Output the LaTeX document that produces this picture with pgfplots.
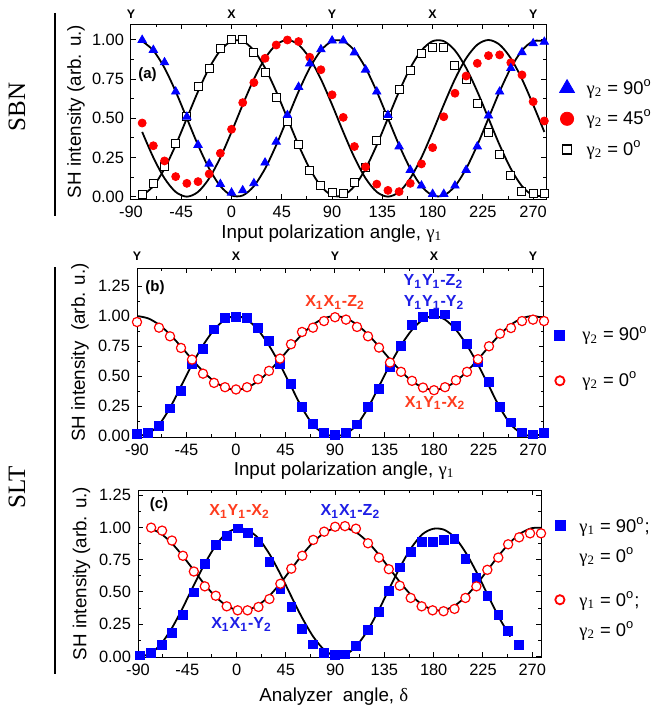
\documentclass[border=0pt]{standalone}
\usepackage{fontspec}
\setmainfont{Liberation Sans}
\newfontfamily\serif{Liberation Serif}
\usepackage{pgfplots}
\pgfplotsset{compat=1.18}

\definecolor{mblue}{RGB}{0,0,255}
\definecolor{mred}{RGB}{255,0,0}
\definecolor{tred}{RGB}{255,60,30}
\definecolor{tblue}{RGB}{30,30,230}

\newcommand{\gam}[1]{{\serif γ}\textsubscript{\serif #1}}
\newcommand{\tens}[3]{\textbf{#1\textsubscript{1}#2\textsubscript{1}-#3\textsubscript{2}}}
\newcommand{\dg}{\textsuperscript{o}}
\newcommand{\two}[2]{\vtop{\hbox{#1}\vskip 2pt\hbox{#2}}}

\tikzset{
  topl/.style={font=\bfseries\fontsize{6.2}{7}\selectfont, anchor=south, inner sep=0pt},
  plab/.style={font=\bfseries\fontsize{7.5}{9}\selectfont},
  ann/.style={font=\bfseries\fontsize{8}{9}\selectfont},
}
\pgfplotsset{
  panel/.style={
    scale only axis,
    anchor=south west,
    axis line style={line width=0.5pt},
    tick align=inside,
    xtick={-90,-45,0,45,90,135,180,225,270},
    minor x tick num=1,
    minor y tick num=1,
    major tick length=2.6pt,
    minor tick length=1.5pt,
    every tick/.style={black, line width=0.5pt},
    /pgf/number format/assume math mode=true,
    ticklabel style={font=\fontsize{8.2}{9}\selectfont},
    yticklabel style={/pgf/number format/.cd, fixed, fixed zerofill, precision=2},
    xlabel style={font=\fontsize{9.4}{11}\selectfont, anchor=north, inner sep=0pt},
    ylabel style={font=\fontsize{9.4}{11}\selectfont, anchor=center, inner sep=0pt},
    clip mode=individual,
    legend cell align=left,
    legend style={draw=none, fill=none, inner sep=0pt, anchor=north west,
      font=\fontsize{9.2}{13}\selectfont, nodes={inner sep=0pt}},
    legend image code/.code={\draw[##1] plot coordinates {(0pt,0pt)};},
  },
  fit/.style={black, line width=0.9pt, smooth, no markers},
}

\begin{document}
\begin{tikzpicture}
\path[use as bounding box] (0pt,0pt) rectangle (325pt,-353pt);
\node[rotate=90, font=\serif\fontsize{12.5}{14}\selectfont] at (8.5pt,-53.5pt) {SBN};
\node[rotate=90, font=\serif\fontsize{12.5}{14}\selectfont] at (8.5pt,-243.5pt) {SLT};
\draw[line width=1.1pt] (27.5pt,-6.5pt) -- (27.5pt,-108pt);
\draw[line width=1.1pt] (27.5pt,-133.5pt) -- (27.5pt,-337pt);

% ---------------- (a) SBN
\begin{axis}[panel, at={(65.5pt,-99.5pt)}, width=207.5pt, height=87.5pt,
  xmin=-90, xmax=281.5, ymin=-0.015, ymax=1.102,
  ytick={0,0.25,0.5,0.75,1},
  xlabel={Input polarization angle, \gam{1}},
  ylabel={SH intensity (arb. u.)},
  xlabel style={at={(axis description cs:0.484,-0.143)}},
  ylabel style={at={(axis description cs:-0.1325,0.5)}},
  legend style={at={(1.0318,0.6856)}, row sep=6.5pt, column sep=6.1pt},
]
\addplot[fit, forget plot] coordinates {(-80,0.0076) (-70,0.067) (-60,0.1786) (-50,0.329) (-40,0.5) (-30,0.671) (-20,0.8214) (-10,0.933) (0,0.9924) (10,0.9924) (20,0.933) (30,0.8214) (40,0.671) (50,0.5) (60,0.329) (70,0.1786) (80,0.067) (90,0.0076) (100,0.0076) (110,0.067) (120,0.1786) (130,0.329) (140,0.5) (150,0.671) (160,0.8214) (170,0.933) (180,0.9924) (190,0.9924) (200,0.933) (210,0.8214) (220,0.671) (230,0.5) (240,0.329) (250,0.1786) (260,0.067) (270,0.0076) (280,0.0076)};
\addplot[fit, forget plot] coordinates {(-80,0.9924) (-70,0.933) (-60,0.8214) (-50,0.671) (-40,0.5) (-30,0.329) (-20,0.1786) (-10,0.067) (0,0.0076) (10,0.0076) (20,0.067) (30,0.1786) (40,0.329) (50,0.5) (60,0.671) (70,0.8214) (80,0.933) (90,0.9924) (100,0.9924) (110,0.933) (120,0.8214) (130,0.671) (140,0.5) (150,0.329) (160,0.1786) (170,0.067) (180,0.0076) (190,0.0076) (200,0.067) (210,0.1786) (220,0.329) (230,0.5) (240,0.671) (250,0.8214) (260,0.933) (270,0.9924) (280,0.9924)};
\addplot[fit, forget plot] coordinates {(-80,0.4132) (-70,0.25) (-60,0.117) (-50,0.0302) (-40,0) (-30,0.0302) (-20,0.117) (-10,0.25) (0,0.4132) (10,0.5868) (20,0.75) (30,0.883) (40,0.9698) (50,1) (60,0.9698) (70,0.883) (80,0.75) (90,0.5868) (100,0.4132) (110,0.25) (120,0.117) (130,0.0302) (140,0) (150,0.0302) (160,0.117) (170,0.25) (180,0.4132) (190,0.5868) (200,0.75) (210,0.883) (220,0.9698) (230,1) (240,0.9698) (250,0.883) (260,0.75) (270,0.5868) (280,0.4132)};
% gamma2 = 0 (open squares)
\addplot[only marks, mark=square*, mark size=2pt, mark options={fill=white, draw=black, line width=0.5pt}, forget plot] coordinates {(-80,0.015) (-70,0.085) (-60,0.19) (-50,0.34) (-40,0.51) (-30,0.706) (-20,0.815) (-10,0.947) (0,1.00) (10,1.00) (20,0.92) (30,0.79) (40,0.634) (50,0.48) (60,0.336) (70,0.166) (80,0.07) (90,0.025) (100,0.02) (110,0.09) (120,0.185) (130,0.36) (140,0.515) (150,0.685) (160,0.808) (170,0.915) (180,0.953) (190,0.953) (200,0.834) (210,0.745) (220,0.596) (230,0.408) (240,0.272) (250,0.138) (260,0.032) (270,0.017) (280,0.017)};
% gamma2 = 45 (red dots)
\addplot[only marks, mark=*, mark size=2pt, mred, forget plot] coordinates {(-80,0.47) (-70,0.325) (-60,0.228) (-50,0.128) (-40,0.085) (-30,0.096) (-20,0.145) (-10,0.277) (0,0.43) (10,0.60) (20,0.728) (30,0.883) (40,0.968) (50,1.00) (60,0.99) (70,0.89) (80,0.81) (90,0.65) (100,0.506) (110,0.32) (120,0.19) (130,0.08) (140,0.04) (150,0.032) (160,0.085) (170,0.209) (180,0.313) (190,0.51) (200,0.66) (210,0.77) (220,0.851) (230,0.90) (240,0.905) (250,0.855) (260,0.777) (270,0.606) (280,0.483)};
% gamma2 = 90 (blue triangles)
\addplot[only marks, mark=triangle*, mark size=2.4pt, mblue, forget plot] coordinates {(-80,1.00) (-70,0.936) (-60,0.857) (-50,0.67) (-40,0.51) (-30,0.33) (-20,0.21) (-10,0.08) (0,0.025) (10,0.04) (20,0.085) (30,0.217) (40,0.35) (50,0.52) (60,0.70) (70,0.85) (80,0.94) (90,0.996) (100,0.996) (110,0.92) (120,0.81) (130,0.67) (140,0.52) (150,0.32) (160,0.17) (170,0.07) (180,0.017) (190,0.017) (200,0.07) (210,0.17) (220,0.32) (230,0.517) (240,0.67) (250,0.82) (260,0.921) (270,0.978) (280,0.988)};
\addlegendimage{only marks, mark=triangle*, mark size=4.3pt, mblue}
\addlegendentry{\gam{2} = 90\dg}
\addlegendimage{only marks, mark=*, mark size=3.3pt, mred}
\addlegendentry{\gam{2} = 45\dg}
\addlegendimage{only marks, mark=square, mark size=2.25pt, black, mark options={line width=0.9pt}}
\addlegendentry{\gam{2} = 0\dg}
\node[plab] at (axis cs:-75.3,0.777) {(a)};
\node[topl, yshift=2.5pt] at (axis cs:-90,1.102) {Y};
\node[topl, yshift=2.5pt] at (axis cs:0,1.102) {X};
\node[topl, yshift=2.5pt] at (axis cs:90,1.102) {Y};
\node[topl, yshift=2.5pt] at (axis cs:180,1.102) {X};
\node[topl, yshift=2.5pt] at (axis cs:270,1.102) {Y};
\end{axis}

% ---------------- (b) SLT
\begin{axis}[panel, at={(68.5pt,-218.5pt)}, width=203.5pt, height=84.5pt,
  xmin=-90, xmax=280, ymin=-0.008, ymax=1.4,
  ytick={0,0.25,0.5,0.75,1,1.25},
  xlabel={Input polarization angle, \gam{1}},
  ylabel={SH intensity\ \ (arb. u.)},
  xlabel style={at={(axis description cs:0.509,-0.142)}},
  ylabel style={at={(axis description cs:-0.140,0.5)}},
  legend style={at={(1.0258,0.6568)}, row sep=14pt, column sep=8.75pt},
]
\addplot[fit, forget plot] coordinates {(-90,0) (-80,0.02) (-70,0.095) (-60,0.235) (-50,0.415) (-40,0.595) (-30,0.755) (-20,0.885) (-10,0.97) (0,1.0) (10,0.97) (20,0.885) (30,0.755) (40,0.595) (50,0.415) (60,0.235) (70,0.095) (80,0.02) (90,0) (100,0.02) (110,0.095) (120,0.235) (130,0.415) (140,0.595) (150,0.755) (160,0.885) (170,0.97) (180,1.0) (190,0.97) (200,0.885) (210,0.755) (220,0.595) (230,0.415) (240,0.235) (250,0.095) (260,0.02) (270,0) (280,0.02)};
\addplot[fit, forget plot] coordinates {(-90,1.0) (-80,0.981) (-70,0.928) (-60,0.846) (-50,0.746) (-40,0.639) (-30,0.539) (-20,0.457) (-10,0.404) (0,0.385) (10,0.404) (20,0.457) (30,0.539) (40,0.639) (50,0.746) (60,0.846) (70,0.928) (80,0.981) (90,1.0) (100,0.981) (110,0.928) (120,0.846) (130,0.746) (140,0.639) (150,0.539) (160,0.457) (170,0.404) (180,0.385) (190,0.404) (200,0.457) (210,0.539) (220,0.639) (230,0.746) (240,0.846) (250,0.928) (260,0.981) (270,1.0) (280,0.981)};
\addplot[only marks, mark=square*, mark size=2.2pt, mblue, forget plot] coordinates {(-90,0.017) (-80,0.028) (-70,0.086) (-60,0.23) (-50,0.377) (-40,0.604) (-30,0.728) (-20,0.889) (-10,0.986) (0,0.992) (10,0.986) (20,0.90) (30,0.79) (40,0.60) (50,0.432) (60,0.244) (70,0.10) (80,0.025) (90,0.012) (100,0.025) (110,0.097) (120,0.24) (130,0.39) (140,0.572) (150,0.753) (160,0.925) (170,0.994) (180,1.02) (190,1.014) (200,0.917) (210,0.767) (220,0.62) (230,0.453) (240,0.244) (250,0.114) (260,0.03) (270,0.014) (280,0.028)};
\addplot[only marks, mark=*, mark size=2.3pt, mark options={fill=white, draw=mred, line width=0.6pt}, forget plot] coordinates {(-90,0.95) (-70,0.903) (-60,0.831) (-50,0.734) (-40,0.637) (-30,0.52) (-20,0.443) (-10,0.407) (0,0.388) (10,0.407) (20,0.474) (30,0.543) (40,0.645) (50,0.765) (60,0.867) (70,0.903) (80,0.958) (90,0.99) (100,0.97) (110,0.909) (120,0.831) (130,0.737) (140,0.612) (150,0.535) (160,0.46) (170,0.404) (180,0.382) (190,0.407) (200,0.465) (210,0.535) (220,0.64) (230,0.748) (240,0.853) (250,0.90) (260,0.958) (270,0.97) (280,0.958)};
\addlegendimage{only marks, mark=square*, mark size=2.5pt, mblue}
\addlegendentry{\gam{2} = 90\dg}
\addlegendimage{only marks, mark=*, mark size=2.3pt, mark options={fill=white, draw=mred, line width=0.9pt}}
\addlegendentry{\gam{2} = 0\dg}
\node[plab] at (axis cs:-73.6,1.24) {(b)};
\node[ann, tred] at (axis cs:90,1.115) {\tens{X}{X}{Z}};
\node[ann, tblue] at (axis cs:179.5,1.29) {\tens{Y}{Y}{Z}};
\node[ann, tblue] at (axis cs:180,1.115) {\tens{Y}{Y}{Y}};
\node[ann, tred] at (axis cs:181,0.275) {\tens{X}{Y}{X}};
\node[topl, yshift=3.6pt] at (axis cs:-90,1.4) {Y};
\node[topl, yshift=3.6pt] at (axis cs:0,1.4) {X};
\node[topl, yshift=3.6pt] at (axis cs:90,1.4) {Y};
\node[topl, yshift=3.6pt] at (axis cs:180,1.4) {X};
\node[topl, yshift=3.6pt] at (axis cs:270,1.4) {Y};
\end{axis}

% ---------------- (c) SLT analyzer
\begin{axis}[panel, at={(69pt,-328.5pt)}, width=201.5pt, height=83.5pt,
  xmin=-90, xmax=278, ymin=-0.005, ymax=1.29,
  ytick={0,0.25,0.5,0.75,1,1.25},
  xlabel={Analyzer\ \ angle, {\serif δ}},
  ylabel={SH intensity (arb. u.)},
  xlabel style={at={(axis description cs:0.486,-0.18)}},
  ylabel style={at={(axis description cs:-0.140,0.5)}},
  legend style={at={(1.0335,0.836)}, row sep=28.3pt, column sep=7.25pt, cells={anchor=base west}},
  legend image code/.code={\draw[#1, yshift=3.4pt] plot coordinates {(0pt,0pt)};},
]
\addplot[fit, forget plot] coordinates {(-90,0.003) (-80,0.015) (-70,0.086) (-60,0.206) (-50,0.362) (-40,0.535) (-30,0.703) (-20,0.847) (-10,0.949) (0,0.99) (10,0.98) (20,0.915) (30,0.794) (40,0.638) (50,0.465) (60,0.297) (70,0.153) (80,0.051) (90,0.003) (100,0.015) (110,0.086) (120,0.206) (130,0.362) (140,0.535) (150,0.703) (160,0.847) (170,0.949) (180,0.99) (190,0.98) (200,0.915) (210,0.794) (220,0.638) (230,0.465) (240,0.297) (250,0.153)};
\addplot[fit, forget plot] coordinates {(-80,0.995) (-70,0.957) (-60,0.885) (-50,0.788) (-40,0.678) (-30,0.567) (-20,0.470) (-10,0.398) (0,0.360) (10,0.360) (20,0.398) (30,0.470) (40,0.567) (50,0.678) (60,0.788) (70,0.885) (80,0.957) (90,0.995) (100,0.995) (110,0.957) (120,0.885) (130,0.788) (140,0.678) (150,0.567) (160,0.470) (170,0.398) (180,0.360) (190,0.360) (200,0.398) (210,0.470) (220,0.567) (230,0.678) (240,0.788) (250,0.885) (260,0.957) (270,0.995) (280,0.995)};
\addplot[only marks, mark=square*, mark size=2.2pt, mblue, forget plot] coordinates {(-88,0.008) (-78,0.026) (-68,0.087) (-59,0.183) (-49,0.324) (-39,0.496) (-29,0.718) (-19,0.864) (-9,0.936) (1,0.993) (10,0.96) (20,0.89) (30,0.73) (40,0.525) (50,0.383) (60,0.216) (70,0.093) (80,0.028) (90,0.01) (99,0.015) (109,0.08) (120,0.203) (130,0.345) (139,0.51) (149,0.69) (159,0.813) (169,0.89) (179,0.885) (189,0.903) (199,0.908) (209,0.756) (219,0.607) (229,0.466) (239,0.32) (248,0.2) (258,0.087)};
\addplot[only marks, mark=*, mark size=2.3pt, mark options={fill=white, draw=mred, line width=0.6pt}, forget plot] coordinates {(-78,0.998) (-68,0.975) (-59,0.898) (-49,0.78) (-39,0.658) (-29,0.543) (-19,0.47) (-9,0.388) (1,0.357) (10,0.357) (20,0.383) (30,0.445) (40,0.563) (50,0.68) (60,0.78) (70,0.903) (80,0.967) (90,1.005) (99,1.01) (109,0.99) (120,0.877) (130,0.766) (139,0.676) (149,0.548) (159,0.453) (169,0.388) (179,0.357) (189,0.35) (199,0.368) (209,0.453) (219,0.543) (229,0.671) (239,0.766) (248,0.869) (258,0.923) (268,0.954) (278,0.954)};
\addlegendimage{only marks, mark=square*, mark size=2.5pt, mblue}
\addlegendentry{\two{\gam{1} = 90\dg;}{\gam{2} = 0\dg}}
\addlegendimage{only marks, mark=*, mark size=2.3pt, mark options={fill=white, draw=mred, line width=0.9pt}}
\addlegendentry{\two{\gam{1} = 0\dg;}{\gam{2} = 0\dg}}
\node[plab] at (axis cs:-70.8,1.173) {(c)};
\node[ann, tred] at (axis cs:2.7,1.121) {\tens{X}{Y}{X}};
\node[ann, tblue] at (axis cs:104,1.121) {\tens{X}{X}{Z}};
\node[ann, tblue] at (axis cs:4.5,0.247) {\tens{X}{X}{Y}};
\end{axis}
\end{tikzpicture}
\end{document}
